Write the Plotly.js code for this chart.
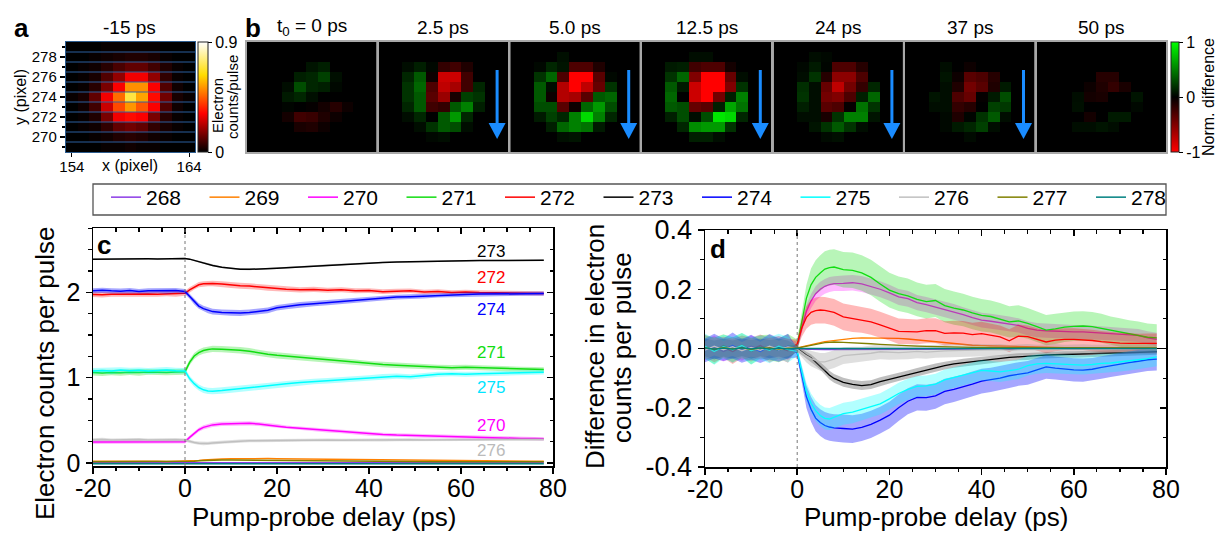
<!DOCTYPE html>
<html><head><meta charset="utf-8">
<script src="https://cdn.plot.ly/plotly-3.0.1.min.js"></script>
<style>html,body{margin:0;padding:0;background:#fff}#chart{width:1218px;height:534px}</style>
</head><body><div id="chart"></div><script>
// ================= DATA =================
const pixelX = [154,155,156,157,158,159,160,161,162,163,164];
const pixelY = [279,278,277,276,275,274,273,272,271,270,269];

// (a) electron counts per pulse at -15 ps (rows top 279 -> bottom 269)
const countsMinus15ps = [
 [0,0,0,.01,.01,.01,.01,.01,0,0,0],
 [0,0,.01,.02,.03,.04,.04,.03,.01,0,0],
 [0,.01,.02,.05,.09,.12,.12,.08,.04,.01,0],
 [0,.01,.03,.10,.18,.30,.30,.18,.06,.01,0],
 [0,.01,.05,.15,.31,.52,.52,.31,.10,.02,0],
 [.01,.03,.12,.30,.47,.70,.55,.33,.14,.03,.01],
 [0,.02,.08,.25,.42,.53,.44,.31,.10,.02,0],
 [0,.01,.04,.15,.30,.33,.31,.15,.05,.01,0],
 [0,.01,.02,.06,.12,.14,.12,.06,.03,.01,0],
 [0,0,.01,.02,.04,.05,.04,.02,.01,0,0],
 [0,0,0,.01,.01,.02,.01,.01,0,0,0]];

// (b) normalised difference maps
const mapTitles = ['t<sub>0</sub> = 0 ps','2.5 ps','5.0 ps','12.5 ps','24 ps','37 ps','50 ps'];
const mapHasArrow = [false,true,true,true,true,true,false];
const diff0ps = [
 [0,0,0,0,0,0,0,0,0,0,0],
 [0,0,0,0,0,0,0,0,0,0,0],
 [0,0,0,0,0,.08,.12,0,0,0,0],
 [0,0,0,0,.12,.15,.25,.06,0,0,0],
 [0,0,0,.05,.30,.15,.12,.03,0,0,0],
 [0,0,0,.10,.15,.06,0,0,0,0,0],
 [0,0,0,.02,0,-.02,-.08,-.15,-.05,0,0],
 [0,0,0,-.08,-.25,-.22,-.12,-.05,0,0,0],
 [0,0,0,0,-.10,-.12,-.05,0,0,0,0],
 [0,0,0,0,0,0,0,0,0,0,0],
 [0,0,0,0,0,0,0,0,0,0,0]];
const diff2p5ps = [
 [0,0,0,0,0,0,0,0,0,0,0],
 [0,0,0,0,0,0,0,0,0,0,0],
 [0,0,.05,.12,.03,-.20,-.25,-.12,0,0,0],
 [0,0,.15,.35,-.05,-.80,-.80,-.25,0,0,0],
 [0,0,.20,.40,-.30,-.75,-.65,-.25,.15,0,0],
 [0,0,.20,.35,-.35,-.60,-.10,.25,.20,0,0],
 [0,0,.15,.35,-.25,-.20,.35,.50,.12,0,0],
 [0,0,.05,.15,0,.35,.60,.15,0,0,0],
 [0,0,0,.05,.20,.35,.30,.05,0,0,0],
 [0,0,0,0,.03,.05,0,0,0,0,0],
 [0,0,0,0,0,0,0,0,0,0,0]];
const diff5ps = [
 [0,0,0,0,0,0,0,0,0,0,0],
 [0,0,0,0,.06,0,0,0,0,0,0],
 [0,0,.03,.15,.08,-.30,-.30,-.12,0,0,0],
 [0,0,.20,.40,-.30,-1,-1,-.35,.03,0,0],
 [0,0,.35,.05,-.70,-1,-.75,-.40,.20,0,0],
 [0,0,.35,-.05,-.70,-.65,-.35,.35,.40,0,0],
 [0,0,.30,.30,-.35,-.05,.40,.60,.30,0,0],
 [0,0,.10,.25,.15,.50,.85,.50,.15,0,0],
 [0,0,0,.12,.40,.50,.45,.10,0,0,0],
 [0,0,0,0,.06,.08,0,0,0,0,0],
 [0,0,0,0,0,0,0,0,0,0,0]];
const diff12p5ps = [
 [0,0,0,0,0,0,0,0,0,0,0],
 [0,0,0,0,.05,.05,0,0,0,0,0],
 [0,0,.10,.12,-.25,-.30,-.30,-.08,0,0,0],
 [0,0,.20,.40,-.50,-1,-1,-.40,.05,0,0],
 [0,0,.35,.10,-.80,-1,-1,-.50,.20,0,0],
 [0,0,.40,0,-.80,-1,-.45,.12,.50,0,0],
 [0,0,.35,.30,-.40,-.35,.12,.65,.45,0,0],
 [0,0,.12,.30,.05,.30,.90,.85,.15,0,0],
 [0,0,0,.15,.55,.60,.60,.20,0,0,0],
 [0,0,0,0,.12,.12,.05,0,0,0,0],
 [0,0,0,0,0,0,0,0,0,0,0]];
const diff24ps = [
 [0,0,0,0,0,0,0,0,0,0,0],
 [0,0,0,.05,.03,0,0,0,0,0,0],
 [0,0,.03,.10,.02,-.30,-.30,-.15,0,0,0],
 [0,0,.05,.20,-.15,-.55,-.55,-.30,0,0,0],
 [0,0,.18,.05,-.40,-.75,-.45,-.20,.15,0,0],
 [0,0,.20,.05,-.45,-.50,-.30,.12,.40,0,0],
 [0,0,.12,.05,-.35,-.30,-.02,.45,.20,0,0],
 [0,0,.05,.05,-.10,.20,.50,.50,.08,0,0],
 [0,0,0,.08,.20,.35,.20,.05,0,0,0],
 [0,0,0,0,.04,.06,0,0,0,0,0],
 [0,0,0,0,0,0,0,0,0,0,0]];
const diff37ps = [
 [0,0,0,0,0,0,0,0,0,0,0],
 [0,0,0,0,0,0,0,0,0,0,0],
 [0,0,0,.05,0,-.05,0,0,0,0,0],
 [0,0,0,.08,-.05,-.35,-.30,-.15,0,0,0],
 [0,0,0,.05,-.12,-.45,-.35,-.12,.10,0,0],
 [0,0,.08,.05,-.30,-.40,-.02,.10,.30,0,0],
 [0,0,.05,.05,-.20,-.15,0,.25,.22,0,0],
 [0,0,0,.03,-.12,.02,.20,.35,.05,0,0],
 [0,0,0,.03,.10,.15,.25,.05,0,0,0],
 [0,0,0,0,0,.04,0,0,0,0,0],
 [0,0,0,0,0,0,0,0,0,0,0]];
const diff50ps = [
 [0,0,0,0,0,0,0,0,0,0,0],
 [0,0,0,0,0,0,0,0,0,0,0],
 [0,0,0,0,0,0,0,0,0,0,0],
 [0,0,0,0,0,-.15,-.15,0,0,0,0],
 [0,0,0,0,-.05,-.12,-.20,-.10,0,0,0],
 [0,0,0,.05,-.08,-.10,0,0,.08,0,0],
 [0,0,0,.06,0,0,0,0,.03,0,0],
 [0,0,0,0,-.08,0,.10,.10,0,0,0],
 [0,0,0,.05,.05,.08,.05,0,0,0,0],
 [0,0,0,0,0,0,0,0,0,0,0],
 [0,0,0,0,0,0,0,0,0,0,0]];

// rows (legend)
const rowNames = ['268','269','270','271','272','273','274','275','276','277','278'];
const rowColors = ['#8c3ce6','#ff8000','#ff00ff','#11dd11','#ff0000','#000000','#0000ff','#00ffff','#c0c0c0','#808000','#008080'];
const bandColors = [null,null,'rgba(255,0,255,0.28)','rgba(0,220,0,0.28)','rgba(255,0,0,0.28)','rgba(0,0,0,0.25)','rgba(0,0,255,0.35)','rgba(0,255,255,0.3)','rgba(150,150,150,0.3)',null,null];

// (c) counts per pulse vs delay
const delayC = [-20,-18,-16,-14,-12,-10,-8,-6,-4,-2,0, 1,2,3,4,5,6, 8,10,12,14,16,18,20,22,
 25,28,31,34,37,40,43,46,49,52,55,58,61,64,67,70,73,76, 78];
const c268 = [.004,.005,.004,.004,.005,.004,.004,.005,.004,.004,.004, .004,.004,.005,.005,.005,.005,
 .005,.005,.005,.005,.005,.005,.004,.004, .004,.004,.004,.004,.004,.004,.004,.004,.004,.004,.004,.004,.004,.004,.004,.004,.004,.004, .004];
const c269 = [.020,.021,.020,.019,.020,.021,.020,.020,.019,.020,.020, .022,.026,.030,.035,.039,.042,
 .047,.050,.052,.053,.053,.052,.051,.050, .048,.045,.042,.039,.036,.033,.031,.029,.028,.027,.026,.025,.024,.024,.023,.023,.022,.022, .022];
const c270 = [.245,.246,.244,.247,.245,.246,.244,.245,.247,.246,.250, .300,.350,.390,.418,.435,.447,
 .458,.463,.468,.465,.458,.448,.432,.418, .405,.392,.380,.370,.355,.342,.335,.327,.322,.318,.313,.308,.303,.298,.294,.290,.288,.286, .285];
const c271 = [1.060,1.055,1.062,1.058,1.065,1.060,1.068,1.064,1.062,1.066,1.070, 1.180,1.255,1.295,1.318,1.330,1.338,
 1.335,1.330,1.322,1.310,1.290,1.275,1.262,1.252, 1.238,1.225,1.212,1.196,1.180,1.165,1.155,1.146,1.140,1.132,1.122,1.118,1.122,1.118,1.110,1.103,1.100,1.097, 1.096];
const c272 = [1.975,1.972,1.978,1.980,1.975,1.978,1.982,1.979,1.983,1.980,1.990, 2.030,2.065,2.090,2.100,2.105,2.104,
 2.098,2.085,2.078,2.074,2.065,2.052,2.045,2.037, 2.030,2.035,2.025,2.030,2.020,2.022,2.008,2.015,2.020,2.005,2.010,2.000,2.005,1.998,1.996,1.992,1.990,1.988, 1.988];
const c273 = [2.390,2.392,2.390,2.393,2.391,2.392,2.394,2.393,2.395,2.397,2.398, 2.390,2.375,2.360,2.345,2.330,2.316,
 2.295,2.280,2.272,2.270,2.272,2.277,2.283,2.289, 2.298,2.310,2.320,2.330,2.340,2.348,2.352,2.355,2.360,2.362,2.365,2.368,2.371,2.373,2.375,2.376,2.376,2.377, 2.377];
const c274 = [2.020,2.025,2.018,2.015,2.022,2.012,2.018,2.020,2.015,2.022,2.010, 1.955,1.890,1.840,1.810,1.790,1.775,
 1.765,1.762,1.758,1.765,1.778,1.790,1.820,1.835, 1.855,1.868,1.880,1.895,1.905,1.922,1.935,1.945,1.950,1.958,1.968,1.972,1.976,1.980,1.982,1.983,1.985,1.985, 1.986];
const c275 = [1.080,1.085,1.078,1.090,1.082,1.088,1.078,1.085,1.090,1.082,1.080, 0.990,0.930,0.885,0.858,0.845,0.842,
 0.850,0.860,0.872,0.880,0.890,0.900,0.915,0.928, 0.945,0.955,0.965,0.975,0.990,0.998,1.012,1.018,1.010,1.025,1.040,1.045,1.040,1.045,1.050,1.052,1.058,1.062, 1.065];
const c276 = [.272,.276,.270,.274,.272,.275,.270,.273,.271,.274,.270, .252,.240,.232,.228,.230,.236,
 .245,.252,.256,.260,.262,.262,.264,.266, .266,.268,.270,.268,.270,.272,.270,.272,.274,.270,.272,.274,.274,.275,.273,.275,.276,.276, .276];
const c277 = [.015,.015,.016,.015,.014,.015,.015,.016,.015,.015,.015, .018,.022,.026,.029,.031,.033,
 .035,.035,.034,.032,.030,.028,.026,.025, .023,.021,.020,.019,.018,.018,.017,.017,.016,.016,.016,.016,.016,.015,.015,.015,.015,.015, .015];
const c278 = [-.008,-.008,-.009,-.008,-.008,-.007,-.008,-.008,-.009,-.008,-.008, -.008,-.008,-.008,-.008,-.008,-.008,
 -.008,-.008,-.008,-.008,-.008,-.008,-.008,-.008, -.008,-.008,-.008,-.008,-.008,-.008,-.008,-.008,-.008,-.008,-.008,-.008,-.008,-.008,-.008,-.008,-.008,-.008, -.008];
// (c) uncertainty half-widths
const e270c = [.022,.023,.021,.022,.022,.023,.021,.022,.022,.023,.022, .022,.023,.024,.024,.025,.025,
 .025,.025,.025,.025,.024,.024,.024,.023, .023,.023,.022,.022,.022,.022,.021,.021,.021,.021,.020,.020,.020,.020,.020,.020,.020,.020, .020];
const e271c = [.034,.036,.033,.035,.034,.036,.033,.035,.034,.035,.034, .034,.035,.036,.037,.038,.038,
 .038,.038,.038,.037,.037,.036,.036,.035, .035,.034,.034,.033,.033,.032,.032,.031,.031,.031,.030,.030,.030,.029,.029,.029,.028,.028, .028];
const e272c = [.030,.032,.029,.031,.030,.033,.030,.031,.029,.032,.030, .030,.030,.031,.032,.032,.033,
 .033,.034,.034,.033,.033,.032,.032,.031, .031,.030,.030,.029,.029,.028,.028,.028,.027,.027,.027,.026,.026,.026,.025,.025,.025,.025, .025];
const e273c = [.008,.008,.009,.008,.008,.009,.008,.008,.009,.008,.008, .008,.009,.009,.009,.009,.009,
 .009,.009,.009,.009,.009,.009,.009,.009, .009,.009,.009,.008,.008,.008,.008,.008,.008,.008,.008,.008,.008,.008,.008,.008,.008,.008, .008];
const e274c = [.030,.031,.032,.030,.031,.029,.032,.030,.031,.030,.030, .030,.031,.032,.033,.034,.034,
 .035,.035,.035,.034,.034,.033,.033,.032, .032,.031,.031,.030,.030,.029,.029,.028,.028,.028,.027,.027,.027,.026,.026,.026,.025,.025, .025];
const e275c = [.035,.033,.036,.034,.035,.033,.036,.034,.035,.034,.034, .034,.035,.036,.036,.037,.037,
 .037,.036,.036,.036,.035,.035,.034,.034, .034,.033,.033,.032,.032,.031,.031,.031,.030,.030,.030,.029,.029,.029,.028,.028,.028,.028, .028];
const e276c = [.018,.019,.017,.018,.018,.019,.017,.018,.018,.019,.018, .018,.018,.019,.019,.019,.019,
 .019,.019,.019,.018,.018,.018,.018,.018, .017,.017,.017,.017,.017,.017,.017,.016,.016,.016,.016,.016,.016,.016,.016,.016,.016,.016, .016];

// (d) difference in counts per pulse vs delay
const delayD = [-20,-18,-16,-14,-12,-10,-8,-6,-4,-2,0, 1,2,3,4,5,6,7,8,
 10,12,14,16,18,20,22,24,26,28,30,32,34,36,38,40,42,44,46,48,50,52,54,56,58,60,62,64,66,68,70,72,74,76,78];
const d268 = [.003,-.004,.002,-.003,.004,-.002,.003,-.004,.002,-.003,.000, -.002,-.003,-.003,-.004,-.004,-.004,-.004,-.004,
 -.004,-.004,-.004,-.004,-.003,-.003,-.003,-.003,-.003,-.003,-.003,-.002,-.002,-.002,-.002,-.002,-.002,-.002,-.002,-.002,-.002,-.001,-.001,-.001,-.001,-.001,-.001,-.001,-.001,-.001,-.001,-.001,-.001,-.001,-.001];
const d269 = [.004,-.003,.002,-.004,.003,-.002,.004,-.003,.002,-.002,.002, .006,.010,.014,.017,.020,.023,.025,.027,
 .031,.034,.036,.036,.036,.035,.034,.032,.029,.025,.022,.019,.016,.013,.011,.010,.009,.008,.007,.006,.005,.005,.004,.004,.003,.003,.003,.002,.002,.002,.002,.002,.002,.002,.002];
const d270 = [-.005,.006,-.010,.004,-.006,.008,-.004,.002,.006,-.003,.008, .070,.125,.160,.185,.200,.210,.216,.219,
 .220,.222,.218,.210,.200,.188,.174,.168,.155,.148,.140,.132,.124,.114,.104,.096,.092,.088,.084,.078,.068,.062,.060,.058,.057,.056,.056,.054,.052,.050,.048,.046,.044,.036,.031];
const d271 = [.005,-.008,.010,-.005,.012,-.010,.006,.003,-.006,.008,.010, .090,.170,.215,.240,.255,.268,.273,.275,
 .266,.264,.255,.240,.218,.197,.185,.178,.166,.158,.162,.145,.136,.130,.120,.112,.108,.100,.090,.093,.085,.074,.062,.066,.072,.075,.076,.074,.068,.060,.054,.048,.044,.038,.036];
const d272 = [.008,-.006,.004,-.010,.006,-.004,.010,-.006,.004,-.008,.015, .070,.105,.122,.128,.130,.129,.126,.122,
 .107,.101,.097,.090,.080,.070,.058,.057,.056,.060,.060,.051,.053,.052,.047,.050,.045,.039,.026,.042,.040,.030,.022,.028,.031,.031,.030,.027,.023,.020,.018,.017,.016,.017,.017];
const d273 = [.004,-.005,.003,-.004,.005,-.003,.004,-.002,.003,-.004,.000, -.012,-.022,-.031,-.045,-.058,-.075,-.090,-.101,
 -.114,-.121,-.125,-.122,-.112,-.104,-.096,-.088,-.080,-.072,-.064,-.058,-.052,-.048,-.044,-.040,-.036,-.034,-.030,-.028,-.027,-.024,-.022,-.021,-.020,-.020,-.019,-.017,-.016,-.015,-.014,-.013,-.012,-.011,-.011];
const d274 = [-.006,.008,-.004,.010,-.008,.004,-.010,.006,-.005,.008,-.015, -.090,-.163,-.205,-.235,-.250,-.260,-.265,-.268,
 -.270,-.272,-.266,-.256,-.242,-.225,-.200,-.178,-.165,-.166,-.160,-.145,-.138,-.130,-.120,-.110,-.106,-.100,-.092,-.086,-.082,-.072,-.062,-.066,-.070,-.072,-.073,-.070,-.064,-.058,-.052,-.048,-.043,-.038,-.036];
const d275 = [.008,-.010,.006,-.004,.010,-.008,.004,-.006,.008,-.004,-.010, -.080,-.146,-.185,-.210,-.226,-.236,-.238,-.232,
 -.220,-.215,-.206,-.196,-.187,-.170,-.152,-.138,-.128,-.126,-.120,-.106,-.098,-.090,-.082,-.074,-.076,-.079,-.075,-.070,-.058,-.052,-.050,-.052,-.054,-.055,-.056,-.054,-.050,-.049,-.046,-.042,-.038,-.034,-.028];
const d276 = [-.006,.008,-.004,.006,-.008,.004,-.006,.008,-.004,.005,-.002, -.015,-.025,-.034,-.040,-.045,-.045,-.041,-.036,
 -.024,-.021,-.020,-.016,-.011,-.013,-.014,-.012,-.010,-.012,-.009,-.008,-.007,-.006,-.006,-.005,-.005,-.004,-.006,-.004,-.003,-.004,-.003,-.002,-.003,-.002,-.002,-.003,-.002,-.002,-.001,-.002,-.001,-.001,-.001];
const d277 = [.002,-.002,.003,-.001,.002,-.003,.001,.002,-.002,.001,.001, .004,.008,.012,.015,.018,.020,.021,.022,
 .021,.020,.018,.016,.014,.012,.010,.009,.008,.007,.006,.005,.005,.004,.004,.004,.003,.003,.003,.003,.003,.003,.002,.002,.002,.002,.002,.002,.002,.002,.002,.002,.002,.002,.002];
const d278 = [.002,-.002,.001,-.002,.002,-.001,.002,-.002,.001,-.001,.000, .000,.001,.000,-.001,.000,.001,.000,-.001,
 .000,.001,.000,-.001,.000,.001,.000,-.001,.000,.001,.000,-.001,.000,.001,.000,-.001,.000,.001,.000,-.001,.000,.001,.000,-.001,.000,.001,.000,-.001,.000,.001,.000,-.001,.000,.001,.000];
// (d) uncertainty half-widths
const e270d = [.035,.038,.034,.036,.035,.037,.034,.036,.035,.036,.015, .018,.022,.024,.025,.025,.025,.025,.025,
 .026,.026,.027,.027,.027,.027,.027,.027,.026,.026,.026,.026,.026,.025,.025,.025,.025,.025,.024,.024,.024,.024,.024,.023,.023,.023,.023,.023,.022,.022,.022,.022,.022,.022,.022];
const e271d = [.040,.045,.038,.042,.040,.044,.039,.043,.040,.041,.020, .035,.045,.055,.058,.060,.060,.060,.060,
 .060,.060,.060,.060,.060,.059,.058,.058,.057,.057,.056,.056,.056,.055,.055,.055,.054,.054,.053,.053,.052,.052,.051,.051,.050,.050,.050,.049,.049,.048,.048,.047,.047,.046,.046];
const e272d = [.038,.040,.036,.042,.038,.040,.037,.041,.038,.040,.015, .030,.038,.042,.044,.045,.045,.045,.045,
 .045,.045,.044,.044,.044,.043,.043,.043,.042,.042,.042,.041,.041,.041,.040,.040,.040,.039,.039,.039,.038,.038,.038,.037,.037,.037,.036,.036,.036,.035,.035,.035,.034,.034,.034];
const e273d = [.030,.032,.030,.031,.030,.032,.030,.031,.030,.031,.010, .010,.011,.012,.013,.014,.015,.015,.015,
 .015,.015,.015,.015,.015,.014,.014,.014,.014,.014,.013,.013,.013,.013,.013,.012,.012,.012,.012,.012,.012,.011,.011,.011,.011,.011,.011,.010,.010,.010,.010,.010,.010,.010,.010];
const e274d = [.040,.042,.038,.044,.040,.042,.039,.043,.040,.042,.015, .030,.038,.042,.044,.045,.046,.046,.046,
 .047,.047,.046,.046,.045,.045,.045,.044,.044,.044,.043,.043,.043,.042,.042,.042,.041,.041,.041,.040,.040,.040,.040,.039,.039,.039,.039,.038,.038,.038,.038,.038,.038,.038,.038];
const e275d = [.042,.045,.040,.044,.042,.046,.041,.044,.042,.043,.015, .025,.030,.033,.035,.036,.037,.037,.037,
 .037,.037,.037,.036,.036,.036,.036,.036,.035,.035,.035,.035,.035,.034,.034,.034,.034,.034,.033,.033,.033,.033,.033,.033,.032,.032,.032,.032,.032,.032,.032,.032,.032,.032,.032];
const e276d = [.030,.032,.029,.031,.030,.032,.029,.031,.030,.031,.010, .015,.022,.026,.028,.030,.030,.030,.030,
 .028,.027,.026,.026,.025,.025,.024,.024,.023,.023,.022,.022,.021,.021,.020,.020,.019,.019,.018,.018,.018,.017,.017,.017,.016,.016,.016,.016,.015,.015,.015,.015,.015,.015,.015];

// labels drawn next to the curves in (c)
const cLabelRows = ['273','272','274','271','275','270','276'];
const cLabelY = [2.485,2.17,1.805,1.30,0.88,0.445,0.15];
const cLabelX = 66.5;

// ================= BUILD =================
const FONT = 'Liberation Sans, Arial, Helvetica, sans-serif';
const W = 1218, H = 534;
const fx = p => p / W;
const fy = p => 1 - p / H;

const seriesC = [c268,c269,c270,c271,c272,c273,c274,c275,c276,c277,c278];
const errC = [null,null,e270c,e271c,e272c,e273c,e274c,e275c,e276c,null,null];
const seriesD = [d268,d269,d270,d271,d272,d273,d274,d275,d276,d277,d278];
const errD = [null,null,e270d,e271d,e272d,e273d,e274d,e275d,e276d,null,null];
const bad = [];
seriesC.forEach((s,i)=>{ if(s.length!==delayC.length) bad.push('c'+rowNames[i]+':'+s.length); if(errC[i]&&errC[i].length!==delayC.length) bad.push('ec'+rowNames[i]+':'+errC[i].length);});
seriesD.forEach((s,i)=>{ if(s.length!==delayD.length) bad.push('d'+rowNames[i]+':'+s.length); if(errD[i]&&errD[i].length!==delayD.length) bad.push('ed'+rowNames[i]+':'+errD[i].length);});
if(bad.length) throw new Error('length mismatch '+bad.join(' ')+' nC='+delayC.length+' nD='+delayD.length);

const traces = [];
traces.push({type:'heatmap', x:pixelX, y:pixelY, z:countsMinus15ps, coloraxis:'coloraxis',
  xaxis:'x', yaxis:'y', zsmooth:false, hoverinfo:'skip'});
const diffMaps = [diff0ps,diff2p5ps,diff5ps,diff12p5ps,diff24ps,diff37ps,diff50ps];
diffMaps.forEach((z,i)=>traces.push({type:'heatmap', x:pixelX, y:pixelY, z:z, coloraxis:'coloraxis2',
  xaxis:'x'+(i+2), yaxis:'y'+(i+2), zsmooth:false, hoverinfo:'skip'}));

function addSeries(xs, ys, es, i, xa, ya, lw, legend){
  if(es){
    traces.push({type:'scatter', mode:'lines', x:xs, y:ys.map((v,k)=>v-es[k]), xaxis:xa, yaxis:ya,
      line:{width:0, color:bandColors[i]}, showlegend:false, hoverinfo:'skip'});
    traces.push({type:'scatter', mode:'lines', x:xs, y:ys.map((v,k)=>v+es[k]), xaxis:xa, yaxis:ya,
      fill:'tonexty', fillcolor:bandColors[i], line:{width:0, color:bandColors[i]}, showlegend:false, hoverinfo:'skip'});
  }
  traces.push({type:'scatter', mode:'lines', name:rowNames[i], x:xs, y:ys, xaxis:xa, yaxis:ya,
    line:{color:rowColors[i], width:lw}, showlegend:legend, legendgroup:rowNames[i], hoverinfo:'skip'});
}
rowNames.forEach((n,i)=>addSeries(delayC, seriesC[i], errC[i], i, 'x9', 'y9', 1.5, true));
rowNames.forEach((n,i)=>addSeries(delayD, seriesD[i], errD[i], i, 'x11', 'y11', 1.3, false));
// empty traces so that the mirrored frame axes (top/right) of (c) and (d) are drawn
traces.push({type:'scatter', mode:'lines', x:[], y:[], xaxis:'x10', yaxis:'y10', showlegend:false, hoverinfo:'skip'});
traces.push({type:'scatter', mode:'lines', x:[], y:[], xaxis:'x12', yaxis:'y12', showlegend:false, hoverinfo:'skip'});

// ---- layout ----
const boxL0 = 247, boxPitch = 131.6, boxW = 129.5, boxTop = 42, boxBot = 152;
const layout = {
  width:W, height:H, margin:{l:0,r:0,t:0,b:0,autoexpand:false},
  paper_bgcolor:'#fff', plot_bgcolor:'rgba(0,0,0,0)',
  font:{family:FONT, color:'#000'}, hovermode:false, showlegend:true,
  legend:{orientation:'h', x:fx(106), xanchor:'left', y:fy(177), yanchor:'top',
    borderwidth:0, bgcolor:'rgba(0,0,0,0)', font:{size:21, family:FONT},
    entrywidth:53.5, entrywidthmode:'pixels', itemwidth:30, traceorder:'normal', valign:'middle'},
  coloraxis:{cmin:0, cmax:0.9,
    colorscale:[[0,'rgb(0,0,0)'],[0.35,'rgb(255,0,0)'],[0.7,'rgb(255,220,0)'],[1,'rgb(255,255,255)']],
    colorbar:{x:fx(198), xanchor:'left', xpad:0, y:fy(97), yanchor:'middle', ypad:0,
      len:110, lenmode:'pixels', thickness:10, thicknessmode:'pixels', outlinewidth:1, outlinecolor:'#222',
      tickmode:'array', tickvals:[0,0.9], ticktext:['0','0.9'], ticks:'outside', ticklen:4, tickcolor:'#000',
      tickfont:{size:16, family:FONT}}},
  coloraxis2:{cmin:-1, cmax:1,
    colorscale:[[0,'rgb(255,0,0)'],[0.5,'rgb(0,0,0)'],[1,'rgb(0,255,0)']],
    colorbar:{x:fx(1171), xanchor:'left', xpad:0, y:fy(97), yanchor:'middle', ypad:0,
      len:110, lenmode:'pixels', thickness:8, thicknessmode:'pixels', outlinewidth:1, outlinecolor:'#222',
      tickmode:'array', tickvals:[-1,0,1], ticktext:['-1','0','1'], ticks:'outside', ticklen:4, tickcolor:'#000',
      tickfont:{size:16, family:FONT}}},
  xaxis:{domain:[fx(66),fx(195)], anchor:'y', range:[153.5,164.5], tickmode:'array', tickvals:[154,164],
    ticks:'outside', ticklen:4, tickwidth:1.2, tickcolor:'#000', tickfont:{size:15}, ticklabelstandoff:-3,
    showline:true, mirror:true, linecolor:'#2d5d8f', linewidth:1.2, showgrid:false, zeroline:false},
  yaxis:{domain:[fy(boxBot),fy(boxTop)], anchor:'x', range:[268.5,279.5], tickmode:'linear', tick0:270, dtick:2,
    minor:{tickmode:'linear', tick0:269, dtick:1, ticks:'outside', ticklen:2.5, tickcolor:'#000'},
    ticks:'outside', ticklen:5, tickwidth:1.2, tickcolor:'#000', tickfont:{size:15},
    showline:true, mirror:true, linecolor:'#2d5d8f', linewidth:1.2, showgrid:false, zeroline:false},
  shapes:[], annotations:[]
};
// legend frame
layout.shapes.push({type:'rect', xref:'paper', yref:'paper', x0:fx(93), x1:fx(1166), y0:fy(215), y1:fy(184),
  line:{color:'#555', width:1.3}, fillcolor:'rgba(0,0,0,0)', layer:'above'});
for(let i=0;i<7;i++){
  const L = boxL0 + boxPitch*i;
  layout['xaxis'+(i+2)] = {domain:[fx(L),fx(L+boxW)], anchor:'y'+(i+2), range:[153.5,164.5],
    showticklabels:false, ticks:'', showline:true, mirror:true, linecolor:'#a8a8a8', linewidth:2, showgrid:false, zeroline:false};
  layout['yaxis'+(i+2)] = {domain:[fy(boxBot),fy(boxTop)], anchor:'x'+(i+2), range:[268.5,279.5],
    showticklabels:false, ticks:'', showline:true, mirror:true, linecolor:'#a8a8a8', linewidth:2, showgrid:false, zeroline:false};
  layout.annotations.push({text:mapTitles[i], x:fx(L+boxW/2), y:fy(27), xref:'paper', yref:'paper',
    showarrow:false, xanchor:'center', yanchor:'middle', font:{size:19}});
  if(mapHasArrow[i]){
    const ax = L + 118.5;
    layout.shapes.push({type:'line', xref:'paper', yref:'paper', x0:fx(ax), x1:fx(ax), y0:fy(70), y1:fy(125),
      line:{color:'#1a8cff', width:3}});
    layout.shapes.push({type:'path', xref:'paper', yref:'paper',
      path:`M ${fx(ax-8.5)},${fy(123)} L ${fx(ax+8.5)},${fy(123)} L ${fx(ax)},${fy(139)} Z`,
      fillcolor:'#1a8cff', line:{width:0}});
  }
}
// pixel-row separators in (a)
for(let i=0;i<pixelY.length-1;i++){
  const yb = (pixelY[i]+pixelY[i+1])/2;
  layout.shapes.push({type:'line', xref:'x domain', yref:'y', x0:0, x1:1, y0:yb, y1:yb,
    line:{color:'rgba(45,100,165,0.95)', width:1}, layer:'above'});
}

function lineAxes(dom, ydom, yr, yticks, ytext, yminor, yfont, xa, ya, xo, yo){
  const common = {showline:true, linecolor:'#000', linewidth:1.5, showgrid:false, zeroline:false,
    tickcolor:'#000', tickwidth:1.5, tickfont:{size:25}};
  layout[xa] = Object.assign({}, common, {domain:dom, anchor:ya.replace('axis',''), range:[-20,80],
    tickmode:'array', tickvals:[-20,0,20,40,60,80], ticktext:['-20','0','20','40','60','80'], ticklabelstandoff:-7,
    ticks:'outside', ticklen:6, minor:{tickmode:'linear', tick0:0, dtick:5, ticks:'outside', ticklen:3.5, tickcolor:'#000', tickwidth:1.2}});
  layout[ya] = Object.assign({}, common, {domain:ydom, anchor:xa.replace('axis',''), range:yr,
    tickmode:'array', tickvals:yticks, ticktext:ytext, tickfont:{size:yfont},
    ticks:'outside', ticklen:6, minor:{tickmode:'linear', tick0:0, dtick:yminor, ticks:'outside', ticklen:3.5, tickcolor:'#000', tickwidth:1.2}});
  layout[xo] = Object.assign({}, common, {overlaying:xa.replace('axis',''), anchor:yo.replace('axis',''), side:'top', range:[-20,80],
    tickmode:'array', tickvals:[-20,0,20,40,60,80], showticklabels:false,
    ticks:'inside', ticklen:6, minor:{tickmode:'linear', tick0:0, dtick:5, ticks:'inside', ticklen:3.5, tickcolor:'#000', tickwidth:1.2}});
  layout[yo] = Object.assign({}, common, {overlaying:ya.replace('axis',''), anchor:xo.replace('axis',''), side:'right', range:yr,
    tickmode:'array', tickvals:yticks, showticklabels:false,
    ticks:'inside', ticklen:6, minor:{tickmode:'linear', tick0:0, dtick:yminor, ticks:'inside', ticklen:3.5, tickcolor:'#000', tickwidth:1.2}});
}
lineAxes([fx(93),fx(553)], [fy(466),fy(228)], [-0.035,2.755], [0,1,2], ['0','1','2'], 0.25, 25, 'xaxis9','yaxis9','xaxis10','yaxis10');
lineAxes([fx(705),fx(1166)], [fy(467),fy(230)], [-0.4,0.4], [-0.4,-0.2,0,0.2,0.4], ['-0.4','-0.2','0.0','0.2','0.4'], 0.1, 27, 'xaxis11','yaxis11','xaxis12','yaxis12');
layout.yaxis11.zeroline = true; layout.yaxis11.zerolinecolor = '#000'; layout.yaxis11.zerolinewidth = 1.5;

// time-zero dotted lines
[['x9','y9'],['x11','y11']].forEach(([xa,ya])=>layout.shapes.push({type:'line', xref:xa, yref:ya+' domain',
  x0:0, x1:0, y0:0, y1:1, line:{color:'#777', width:1, dash:'dot'}}));

// text annotations
const A = (text, x, y, size, extra) => layout.annotations.push(Object.assign({text:text, x:fx(x), y:fy(y),
  xref:'paper', yref:'paper', showarrow:false, xanchor:'center', yanchor:'middle', font:{size:size}}, extra||{}));
A('<b>a</b>', 21, 28, 26); A('<b>b</b>', 253, 28, 26); A('<b>c</b>', 104, 245, 26); A('<b>d</b>', 718, 249, 26);
A('-15 ps', 129, 27, 19);
A('x (pixel)', 130, 165, 16);
A('y (pixel)', 20, 97, 16, {textangle:-90});
A('Electron', 217, 106, 15, {textangle:-90});
A('counts/pulse', 232, 97, 15, {textangle:-90});
A('Norm. difference', 1208, 97, 16, {textangle:-90});
A('Electron counts per pulse', 45, 374, 26, {textangle:-90});
A('Pump-probe delay (ps)', 324, 517, 26);
A('Pump-probe delay (ps)', 936, 517, 26);
A('Difference in electron', 595, 347, 26, {textangle:-90});
A('counts per pulse', 622, 348, 26, {textangle:-90});
cLabelRows.forEach((r,k)=>{
  const i = rowNames.indexOf(r);
  layout.annotations.push({text:r, x:cLabelX, y:cLabelY[k], xref:'x9', yref:'y9', showarrow:false,
    xanchor:'center', yanchor:'middle', font:{size:17, color: r==='276' ? '#bbbbbb' : (r==='275' ? '#00e5ff' : rowColors[i])}});
});

Plotly.newPlot('chart', traces, layout, {displayModeBar:false, staticPlot:true});
</script></body></html>
